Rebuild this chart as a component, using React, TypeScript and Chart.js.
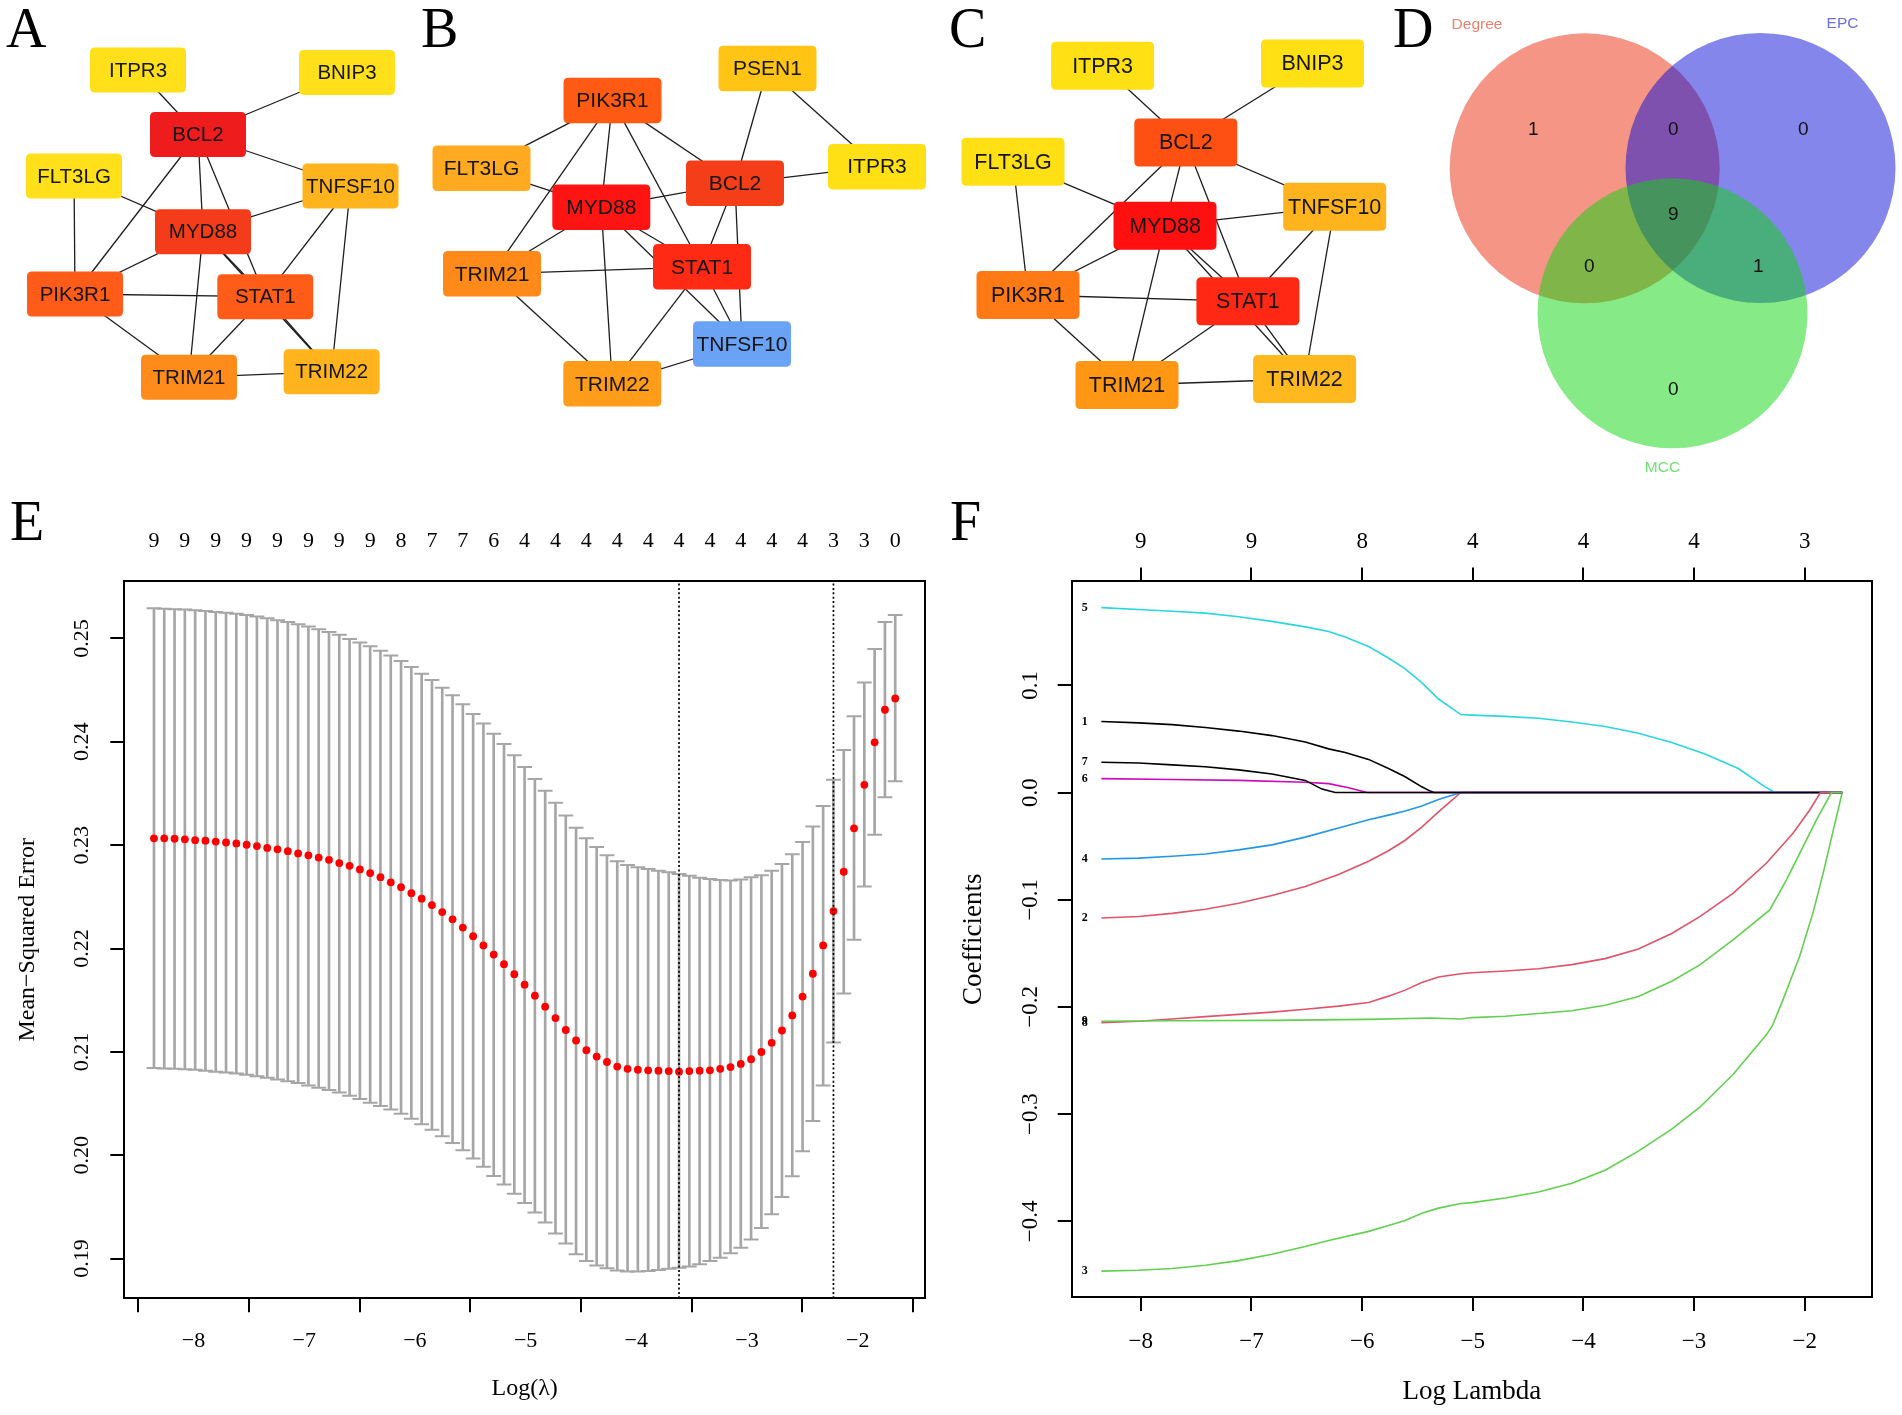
import React, { useEffect, useRef } from 'react';
import { Chart, registerables } from 'chart.js';

Chart.register(...registerables);

const SERIF = '"Liberation Serif", "Times New Roman", serif';
const SANS = '"Liberation Sans", Arial, sans-serif';

// ---------------- Panel A network ----------------
const A_NODES = ['ITPR3', 'BNIP3', 'BCL2', 'FLT3LG', 'TNFSF10', 'MYD88', 'PIK3R1', 'STAT1', 'TRIM21', 'TRIM22'];
const A_X = [138, 347, 198, 74, 350.5, 203, 75, 265.3, 189, 331.6];
const A_Y = [70, 72.5, 134.5, 176, 186, 231.7, 294, 296.7, 377.3, 371.7];
const A_COLORS = ['#FFE01A', '#FFE01A', '#EE1C1C', '#FFE01A', '#FFB41E', '#F43C1A', '#FF5C1A', '#FF5C1A', '#FF8C1A', '#FFB41E'];
const A_EDGES: [string, string][] = [
  ['ITPR3', 'BCL2'], ['BNIP3', 'BCL2'], ['BCL2', 'TNFSF10'], ['BCL2', 'MYD88'], ['BCL2', 'PIK3R1'], ['BCL2', 'STAT1'],
  ['FLT3LG', 'MYD88'], ['FLT3LG', 'PIK3R1'], ['TNFSF10', 'MYD88'], ['TNFSF10', 'STAT1'], ['TNFSF10', 'TRIM22'],
  ['MYD88', 'PIK3R1'], ['MYD88', 'TRIM21'], ['MYD88', 'STAT1'], ['MYD88', 'TRIM22'], ['PIK3R1', 'STAT1'],
  ['PIK3R1', 'TRIM21'], ['STAT1', 'TRIM21'], ['STAT1', 'TRIM22'], ['TRIM21', 'TRIM22'],
];

// ---------------- Panel B network ----------------
const B_NODES = ['PSEN1', 'PIK3R1', 'FLT3LG', 'ITPR3', 'BCL2', 'MYD88', 'TRIM21', 'STAT1', 'TNFSF10', 'TRIM22'];
const B_X = [767.5, 612.5, 481.5, 877, 735, 601.3, 492, 702, 742, 612.3];
const B_Y = [68.5, 100.6, 168.3, 166.7, 183.3, 207.3, 273.8, 266.8, 344, 383.8];
const B_COLORS = ['#FFC414', '#FF5A14', '#FFAA20', '#FFE014', '#F43E1A', '#FF1414', '#FF8A1A', '#FF2A14', '#6AA2F5', '#FF9C1A'];
const B_EDGES: [string, string][] = [
  ['PSEN1', 'BCL2'], ['PSEN1', 'ITPR3'], ['BCL2', 'ITPR3'], ['PIK3R1', 'FLT3LG'], ['PIK3R1', 'MYD88'], ['PIK3R1', 'BCL2'],
  ['PIK3R1', 'STAT1'], ['PIK3R1', 'TRIM21'], ['FLT3LG', 'MYD88'], ['MYD88', 'BCL2'], ['MYD88', 'TRIM21'], ['MYD88', 'STAT1'],
  ['MYD88', 'TNFSF10'], ['MYD88', 'TRIM22'], ['BCL2', 'STAT1'], ['BCL2', 'TNFSF10'], ['STAT1', 'TRIM21'], ['STAT1', 'TRIM22'],
  ['STAT1', 'TNFSF10'], ['TRIM21', 'TRIM22'], ['TNFSF10', 'TRIM22'],
];

// ---------------- Panel C network ----------------
const C_NODES = ['ITPR3', 'BNIP3', 'BCL2', 'FLT3LG', 'TNFSF10', 'MYD88', 'PIK3R1', 'STAT1', 'TRIM21', 'TRIM22'];
const C_X = [1102.6, 1312.5, 1185.8, 1013, 1334.7, 1165, 1028, 1247.9, 1127, 1304.6];
const C_Y = [65.8, 63.5, 142.5, 161.7, 206.7, 225.7, 295, 301.3, 385, 379];
const C_COLORS = ['#FFE014', '#FFE014', '#FF5014', '#FFE014', '#FFB41E', '#FF1010', '#FF7A14', '#FF2814', '#FF9614', '#FFB81E'];
const C_EDGES: [string, string][] = [
  ['ITPR3', 'BCL2'], ['BNIP3', 'BCL2'], ['BCL2', 'TNFSF10'], ['BCL2', 'MYD88'], ['BCL2', 'PIK3R1'], ['BCL2', 'STAT1'],
  ['FLT3LG', 'MYD88'], ['FLT3LG', 'PIK3R1'], ['TNFSF10', 'MYD88'], ['TNFSF10', 'STAT1'], ['TNFSF10', 'TRIM22'],
  ['MYD88', 'PIK3R1'], ['MYD88', 'TRIM21'], ['MYD88', 'STAT1'], ['MYD88', 'TRIM22'], ['PIK3R1', 'STAT1'],
  ['PIK3R1', 'TRIM21'], ['STAT1', 'TRIM21'], ['STAT1', 'TRIM22'], ['TRIM21', 'TRIM22'],
];

// ---------------- Panel D Venn ----------------
const VENN_SETS = ['Degree', 'EPC', 'MCC'];
const VENN_CX = [1584.7, 1760.5, 1672.5];
const VENN_CY = [168.3, 168, 313.3];
const VENN_R = [135, 135, 135];
const VENN_FILLS = ['rgba(233,43,12,0.5)', 'rgba(12,14,218,0.5)', 'rgba(14,214,14,0.5)'];
const VENN_LABEL_COLORS = ['#EE7F6C', '#6E6EE2', '#72E072'];
const VENN_LABEL_X = [1477, 1842.5, 1662.5];
const VENN_LABEL_Y = [25, 24, 468];
const VENN_COUNTS = ['1', '0', '0', '9', '0', '1', '0'];
const VENN_COUNT_X = [1533.3, 1673.3, 1803.3, 1673.3, 1589.3, 1758.3, 1673.3];
const VENN_COUNT_Y = [130, 130, 130, 215, 266.7, 266.7, 390];

// ---------------- Panel E: cross-validation ----------------
const LOG_LAMBDA = [
  -8.357, -8.264, -8.171, -8.078, -7.985, -7.892, -7.799, -7.706, -7.613, -7.520,
  -7.427, -7.334, -7.241, -7.148, -7.055, -6.962, -6.869, -6.776, -6.683, -6.590,
  -6.497, -6.404, -6.311, -6.218, -6.125, -6.032, -5.939, -5.846, -5.753, -5.660,
  -5.567, -5.474, -5.381, -5.288, -5.195, -5.102, -5.009, -4.916, -4.823, -4.730,
  -4.637, -4.544, -4.451, -4.358, -4.265, -4.172, -4.079, -3.986, -3.893, -3.800,
  -3.707, -3.614, -3.521, -3.428, -3.335, -3.242, -3.149, -3.056, -2.963, -2.870,
  -2.777, -2.684, -2.591, -2.498, -2.405, -2.312, -2.219, -2.126, -2.033, -1.940,
  -1.847, -1.754, -1.661,
];
const CV_MEAN = [
  0.23066, 0.23066, 0.23062, 0.23057, 0.23048, 0.23044, 0.23035, 0.23026, 0.23017, 0.23004,
  0.22991, 0.22973, 0.22960, 0.22942, 0.22920, 0.22902, 0.22880, 0.22858, 0.22827, 0.22800,
  0.22765, 0.22730, 0.22690, 0.22641, 0.22593, 0.22535, 0.22482, 0.22420, 0.22353, 0.22283,
  0.22203, 0.22119, 0.22030, 0.21942, 0.21849, 0.21752, 0.21650, 0.21544, 0.21437, 0.21327,
  0.21212, 0.21110, 0.21017, 0.20955, 0.20902, 0.20858, 0.20836, 0.20827, 0.20822, 0.20818,
  0.20814, 0.20809, 0.20814, 0.20818, 0.20822, 0.20836, 0.20853, 0.20884, 0.20929, 0.20999,
  0.21088, 0.21207, 0.21353, 0.21535, 0.21756, 0.22030, 0.22362, 0.22743, 0.23163, 0.23584,
  0.23995, 0.24310, 0.24420,
];
const CV_UP = [
  0.25292, 0.25288, 0.25283, 0.25279, 0.25274, 0.25265, 0.25256, 0.25248, 0.25239, 0.25226,
  0.25212, 0.25195, 0.25177, 0.25159, 0.25137, 0.25115, 0.25088, 0.25062, 0.25035, 0.24995,
  0.24960, 0.24925, 0.24880, 0.24836, 0.24783, 0.24725, 0.24659, 0.24597, 0.24522, 0.24451,
  0.24363, 0.24270, 0.24177, 0.24079, 0.23978, 0.23871, 0.23756, 0.23641, 0.23526, 0.23411,
  0.23287, 0.23168, 0.23066, 0.22982, 0.22902, 0.22845, 0.22809, 0.22787, 0.22770, 0.22752,
  0.22739, 0.22721, 0.22703, 0.22685, 0.22672, 0.22663, 0.22659, 0.22668, 0.22690, 0.22708,
  0.22752, 0.22818, 0.22911, 0.23031, 0.23181, 0.23380, 0.23632, 0.23920, 0.24248, 0.24575,
  0.24898, 0.25159, 0.25226,
];
const CV_LO = [
  0.20845, 0.20840, 0.20836, 0.20831, 0.20827, 0.20818, 0.20809, 0.20800, 0.20791, 0.20778,
  0.20765, 0.20751, 0.20734, 0.20716, 0.20698, 0.20676, 0.20654, 0.20632, 0.20606, 0.20575,
  0.20544, 0.20509, 0.20477, 0.20442, 0.20402, 0.20353, 0.20300, 0.20247, 0.20185, 0.20119,
  0.20048, 0.19968, 0.19889, 0.19800, 0.19716, 0.19628, 0.19539, 0.19446, 0.19349, 0.19243,
  0.19145, 0.19043, 0.18977, 0.18933, 0.18906, 0.18884, 0.18875, 0.18875, 0.18880, 0.18889,
  0.18902, 0.18911, 0.18924, 0.18946, 0.18977, 0.19008, 0.19052, 0.19105, 0.19185, 0.19296,
  0.19428, 0.19597, 0.19796, 0.20039, 0.20331, 0.20676, 0.21092, 0.21566, 0.22084, 0.22601,
  0.23101, 0.23464, 0.23619,
];
const E_DF_LABELS = ['9', '9', '9', '9', '9', '9', '9', '9', '8', '7', '7', '6', '4', '4', '4', '4', '4', '4', '4', '4', '4', '4', '3', '3', '0'];
const LOG_LAMBDA_MIN = -3.614;
const LOG_LAMBDA_1SE = -2.219;
const X_TICKS = [-8, -7, -6, -5, -4, -3, -2];
const X_RANGE = [-8.625, -1.392];
const E_Y_TICKS = [0.19, 0.2, 0.21, 0.22, 0.23, 0.24, 0.25];
const E_Y_RANGE = [0.18616, 0.25552];

// ---------------- Panel F: coefficient paths ----------------
const C1_X = [-8.357, -8.019, -7.718, -7.417, -7.116, -6.815, -6.514, -6.303, -6.153, -5.942, -5.762, -5.611, -5.461, -5.385, -5.35, -1.661];
const C1_Y = [0.0663, 0.065, 0.0633, 0.0607, 0.0573, 0.0531, 0.0471, 0.0407, 0.0373, 0.0309, 0.0224, 0.0147, 0.0053, 0.0013, 0, 0];
const C2_X = [-8.357, -8.019, -7.718, -7.417, -7.116, -6.815, -6.514, -6.213, -5.942, -5.762, -5.611, -5.461, -5.31, -5.108, -1.661];
const C2_Y = [-0.117, -0.1157, -0.1127, -0.1089, -0.1033, -0.0961, -0.0876, -0.0765, -0.0641, -0.0543, -0.0445, -0.0322, -0.0181, 0, 0];
const C3_X = [-8.357, -8.019, -7.718, -7.417, -7.116, -6.815, -6.514, -6.303, -5.942, -5.762, -5.611, -5.461, -5.31, -5.108, -5.008, -4.707, -4.406, -4.105, -3.804, -3.503, -3.202, -2.948, -2.648, -2.347, -2.292, -2.196, -2.045, -1.925, -1.835, -1.744, -1.661];
const C3_Y = [-0.4464, -0.4456, -0.4439, -0.4409, -0.4366, -0.4306, -0.4234, -0.4178, -0.4093, -0.4038, -0.3991, -0.3923, -0.3876, -0.3833, -0.3825, -0.3782, -0.3725, -0.3645, -0.3522, -0.3345, -0.314, -0.2935, -0.263, -0.226, -0.2175, -0.1932, -0.1525, -0.112, -0.076, -0.036, 0];
const C4_X = [-8.357, -8.019, -7.718, -7.417, -7.116, -6.815, -6.514, -6.213, -5.942, -5.762, -5.611, -5.461, -5.31, -5.108, -1.661];
const C4_Y = [-0.062, -0.0612, -0.0595, -0.0573, -0.0535, -0.0488, -0.0416, -0.033, -0.0254, -0.0211, -0.0173, -0.0126, -0.0066, 0, 0];
const C5_X = [-8.357, -8.019, -7.718, -7.417, -7.116, -6.815, -6.514, -6.303, -6.153, -5.942, -5.762, -5.611, -5.461, -5.31, -5.108, -5.008, -4.707, -4.406, -4.105, -3.804, -3.503, -3.202, -2.901, -2.6, -2.359, -2.268, -1.661];
const C5_Y = [0.1724, 0.1707, 0.169, 0.1673, 0.1639, 0.1596, 0.1545, 0.1502, 0.1451, 0.1362, 0.1255, 0.1153, 0.1025, 0.0872, 0.0727, 0.0722, 0.071, 0.0693, 0.0658, 0.0616, 0.0552, 0.0467, 0.036, 0.0224, 0.0053, 0, 0];
const C6_X = [-8.357, -7.718, -7.116, -6.514, -6.303, -6.122, -5.956, -1.661];
const C6_Y = [0.013, 0.0121, 0.0113, 0.0096, 0.0083, 0.0045, 0, 0];
const C7_X = [-8.357, -8.019, -7.718, -7.417, -7.116, -6.815, -6.514, -6.363, -6.243, -1.661];
const C7_Y = [0.0283, 0.0275, 0.0258, 0.0241, 0.0211, 0.0173, 0.0113, 0.0032, 0, 0];
const C8_X = [-8.357, -8.019, -7.718, -7.417, -7.116, -6.815, -6.514, -6.213, -5.942, -5.762, -5.611, -5.461, -5.31, -5.108, -5.008, -4.707, -4.406, -4.105, -3.804, -3.503, -3.202, -2.948, -2.648, -2.347, -2.106, -1.955, -1.858, -1.661];
const C8_Y = [-0.2146, -0.2133, -0.2112, -0.209, -0.2069, -0.2048, -0.2022, -0.1992, -0.1958, -0.1899, -0.1843, -0.1771, -0.172, -0.169, -0.1681, -0.1664, -0.1643, -0.1605, -0.1549, -0.146, -0.1315, -0.1157, -0.094, -0.066, -0.038, -0.0163, 0, 0];
const C9_X = [-8.357, -7.718, -6.815, -5.942, -5.385, -5.108, -5.008, -4.707, -4.406, -4.105, -3.804, -3.503, -3.202, -2.948, -2.648, -2.316, -2.165, -2.015, -1.894, -1.759, -1.661];
const C9_Y = [-0.2133, -0.2129, -0.2125, -0.2116, -0.2103, -0.2112, -0.2099, -0.2086, -0.2061, -0.2035, -0.1984, -0.1903, -0.176, -0.1608, -0.1375, -0.1095, -0.0815, -0.0505, -0.0256, 0, 0];
const CURVE_LABELS = ['1', '2', '3', '4', '5', '6', '7', '8', '9'];
const CURVE_COLORS = ['#000000', '#DF536B', '#61D04F', '#2297E6', '#2AD6E0', '#CD0BBC', '#000000', '#DF536B', '#61D04F'];
const F_DF_LABELS = ['9', '9', '8', '4', '4', '4', '3'];
const F_Y_TICKS = [-0.4, -0.3, -0.2, -0.1, 0, 0.1];
const F_Y_RANGE = [-0.4705, 0.1969];

// ---------------- helpers ----------------
const minus = (s: string) => s.replace('-', '\u2212');
const measure = (font: string, s: string) => {
  const c = document.createElement('canvas').getContext('2d');
  if (!c) return s.length * 11;
  c.font = font;
  return c.measureText(s).width;
};
const roundRect = (ctx: CanvasRenderingContext2D, x: number, y: number, w: number, h: number, r: number) => {
  ctx.beginPath();
  ctx.moveTo(x + r, y);
  ctx.lineTo(x + w - r, y);
  ctx.quadraticCurveTo(x + w, y, x + w, y + r);
  ctx.lineTo(x + w, y + h - r);
  ctx.quadraticCurveTo(x + w, y + h, x + w - r, y + h);
  ctx.lineTo(x + r, y + h);
  ctx.quadraticCurveTo(x, y + h, x, y + h - r);
  ctx.lineTo(x, y + r);
  ctx.quadraticCurveTo(x, y, x + r, y);
  ctx.closePath();
};

const nodePlugin = {
  id: 'networkNodes',
  afterDatasetsDraw(chart: any) {
    const ctx = chart.ctx as CanvasRenderingContext2D;
    const xs = chart.scales.x;
    const ys = chart.scales.y;
    chart.data.datasets.forEach((ds: any, di: number) => {
      if (!ds.nodeNames) return;
      const meta = chart.getDatasetMeta(di);
      ds.nodeNames.forEach((name: string, i: number) => {
        const el = meta.data[i];
        const raw = ds.data[i];
        const w = Math.abs(xs.getPixelForValue(raw.x + ds.nodeW / 2) - xs.getPixelForValue(raw.x - ds.nodeW / 2));
        const h = Math.abs(ys.getPixelForValue(raw.y + ds.nodeH / 2) - ys.getPixelForValue(raw.y - ds.nodeH / 2));
        ctx.save();
        roundRect(ctx, el.x - w / 2, el.y - h / 2, w, h, 5);
        ctx.fillStyle = ds.nodeColors[i];
        ctx.fill();
        ctx.fillStyle = '#161616';
        ctx.font = `${ds.nodeFont}px ${SANS}`;
        ctx.textAlign = 'center';
        ctx.textBaseline = 'middle';
        ctx.fillText(name, el.x, el.y + 1);
        ctx.restore();
      });
    });
  },
};

function makeNetwork(canvas: HTMLCanvasElement, left: number, width: number, names: string[], xs: number[], ys: number[], colors: string[], edges: [string, string][], nodeW: number, nodeH: number, font: number) {
  const at = (n: string) => names.indexOf(n);
  const edgeSets = edges.map(([a, b]) => ({
    type: 'line',
    data: [{ x: xs[at(a)], y: ys[at(a)] }, { x: xs[at(b)], y: ys[at(b)] }],
    borderColor: '#1e1e1e',
    borderWidth: 1.3,
    pointRadius: 0,
    fill: false,
    order: 2,
  }));
  const nodeSet: any = {
    type: 'scatter',
    data: names.map((_, i) => ({ x: xs[i], y: ys[i] })),
    pointRadius: 0,
    order: 1,
    nodeNames: names,
    nodeColors: colors,
    nodeW,
    nodeH,
    nodeFont: font,
  };
  return new Chart(canvas, {
    type: 'scatter',
    data: { datasets: [...edgeSets, nodeSet] as any },
    options: {
      animation: false,
      responsive: false,
      events: [],
      layout: { padding: 0 },
      plugins: { legend: { display: false }, tooltip: { enabled: false } },
      scales: {
        x: { type: 'linear', display: false, min: left, max: left + width },
        y: { type: 'linear', display: false, min: 0, max: 480, reverse: true },
      },
    },
    plugins: [nodePlugin],
  } as any);
}

const vennPlugin = {
  id: 'vennCircles',
  beforeDatasetsDraw(chart: any) {
    const ctx = chart.ctx as CanvasRenderingContext2D;
    const xs = chart.scales.x;
    chart.data.datasets.forEach((ds: any, di: number) => {
      const el = chart.getDatasetMeta(di).data[0];
      const raw = ds.data[0];
      const r = Math.abs(xs.getPixelForValue(raw.x + ds.circleR) - xs.getPixelForValue(raw.x));
      ctx.save();
      ctx.beginPath();
      ctx.arc(el.x, el.y, r, 0, Math.PI * 2);
      ctx.fillStyle = ds.circleFill;
      ctx.fill();
      ctx.restore();
    });
  },
  afterDatasetsDraw(chart: any) {
    const ctx = chart.ctx as CanvasRenderingContext2D;
    const xs = chart.scales.x;
    const ys = chart.scales.y;
    ctx.save();
    ctx.textAlign = 'center';
    ctx.textBaseline = 'middle';
    ctx.font = `19px ${SANS}`;
    ctx.fillStyle = '#111';
    VENN_COUNTS.forEach((c, i) => ctx.fillText(c, xs.getPixelForValue(VENN_COUNT_X[i]), ys.getPixelForValue(VENN_COUNT_Y[i])));
    ctx.font = `15.5px ${SANS}`;
    VENN_SETS.forEach((s, i) => {
      ctx.fillStyle = VENN_LABEL_COLORS[i];
      ctx.fillText(s, xs.getPixelForValue(VENN_LABEL_X[i]), ys.getPixelForValue(VENN_LABEL_Y[i]));
    });
    ctx.restore();
  },
};

function makeVenn(canvas: HTMLCanvasElement) {
  return new Chart(canvas, {
    type: 'scatter',
    data: {
      datasets: VENN_SETS.map((s, i) => ({
        label: s,
        data: [{ x: VENN_CX[i], y: VENN_CY[i] }],
        pointRadius: 0,
        circleR: VENN_R[i],
        circleFill: VENN_FILLS[i],
      })) as any,
    },
    options: {
      animation: false,
      responsive: false,
      events: [],
      layout: { padding: 0 },
      plugins: { legend: { display: false }, tooltip: { enabled: false } },
      scales: {
        x: { type: 'linear', display: false, min: 1390, max: 1902 },
        y: { type: 'linear', display: false, min: 0, max: 480, reverse: true },
      },
    },
    plugins: [vennPlugin],
  } as any);
}

const boxAxis = (position: string, range: number[]) => ({
  type: 'linear',
  position,
  min: range[0],
  max: range[1],
  bounds: 'data',
  ticks: { display: false },
  grid: { display: false, drawTicks: false },
  border: { display: true, color: '#000', width: 2 },
  afterFit: (s: any) => { if (position === 'right') s.width = 0; else s.height = 0; },
});

function makeE(canvas: HTMLCanvasElement) {
  const W = 951;
  const area = { left: 124.3, right: 925, top: 101.4, bottom: 818.3, height: 935 };
  const fs = 22;
  const tl = 14;
  const widest = Math.max(...E_Y_TICKS.map((v) => measure(`${fs}px ${SERIF}`, v.toFixed(2))));
  const yPad = area.left - tl - 82 - widest / 2;
  const xPad = 861.3 - area.bottom - tl - (fs * 1.2) / 2;
  const topPad = area.top - 61.6 - (fs * 1.2) / 2;
  const dfTicks = LOG_LAMBDA.filter((_, i) => i % 3 === 0);
  const capHalf = 0.01 * (LOG_LAMBDA[LOG_LAMBDA.length - 1] - LOG_LAMBDA[0]);
  const capRadius = (ctx: any) => {
    const s = ctx.chart.scales.x;
    return s ? Math.abs(s.getPixelForValue(capHalf) - s.getPixelForValue(0)) : 7.4;
  };
  const grey = '#A6A6A6';
  return new Chart(canvas, {
    type: 'bar',
    data: {
      datasets: [
        { type: 'line', data: [{ x: LOG_LAMBDA_MIN, y: E_Y_RANGE[0] }, { x: LOG_LAMBDA_MIN, y: E_Y_RANGE[1] }], borderColor: '#000', borderWidth: 1.7, borderDash: [2, 2.4], pointRadius: 0, order: 0 },
        { type: 'line', data: [{ x: LOG_LAMBDA_1SE, y: E_Y_RANGE[0] }, { x: LOG_LAMBDA_1SE, y: E_Y_RANGE[1] }], borderColor: '#000', borderWidth: 1.7, borderDash: [2, 2.4], pointRadius: 0, order: 0 },
        { type: 'scatter', data: LOG_LAMBDA.map((x, i) => ({ x, y: CV_MEAN[i] })), pointRadius: 3.9, backgroundColor: '#FF0000', borderWidth: 0, order: 1 },
        { type: 'scatter', data: LOG_LAMBDA.map((x, i) => ({ x, y: CV_UP[i] })), pointStyle: 'line', pointRadius: capRadius, borderColor: grey, borderWidth: 2, order: 2 },
        { type: 'scatter', data: LOG_LAMBDA.map((x, i) => ({ x, y: CV_LO[i] })), pointStyle: 'line', pointRadius: capRadius, borderColor: grey, borderWidth: 2, order: 2 },
        { type: 'bar', data: LOG_LAMBDA.map((x, i) => ({ x, y: [CV_LO[i], CV_UP[i]] })), backgroundColor: grey, barThickness: 2, order: 3 },
      ] as any,
    },
    options: {
      animation: false,
      responsive: false,
      events: [],
      layout: { padding: { left: 0, right: W - area.right, top: 0, bottom: 0 } },
      plugins: { legend: { display: false }, tooltip: { enabled: false } },
      scales: {
        x: {
          type: 'linear', position: 'bottom', min: X_RANGE[0], max: X_RANGE[1], bounds: 'data', offset: false,
          afterBuildTicks: (s: any) => { s.ticks = X_TICKS.map((v) => ({ value: v })); },
          afterFit: (s: any) => { s.height = area.height - area.bottom; },
          ticks: { font: { family: SERIF, size: fs }, color: '#000', padding: xPad, maxRotation: 0, autoSkip: false, callback: (v: any) => minus(String(v)) },
          grid: { display: true, drawOnChartArea: false, drawTicks: true, tickLength: tl, color: '#000', lineWidth: 2 },
          border: { display: true, color: '#000', width: 2 },
          title: { display: true, text: 'Log(\u03bb)', font: { family: SERIF, size: 24 }, color: '#000', padding: { top: 0, bottom: 11.6 } },
        },
        xTop: {
          type: 'linear', position: 'top', min: X_RANGE[0], max: X_RANGE[1], bounds: 'data', offset: false,
          afterBuildTicks: (s: any) => { s.ticks = dfTicks.map((v) => ({ value: v })); },
          afterFit: (s: any) => { s.height = area.top; },
          ticks: { font: { family: SERIF, size: fs }, color: '#000', padding: topPad, maxRotation: 0, autoSkip: false, callback: (_v: any, i: number) => E_DF_LABELS[i] },
          grid: { display: false, drawTicks: false },
          border: { display: true, color: '#000', width: 2 },
        },
        y: {
          type: 'linear', position: 'left', min: E_Y_RANGE[0], max: E_Y_RANGE[1], bounds: 'data',
          afterBuildTicks: (s: any) => { s.ticks = E_Y_TICKS.map((v) => ({ value: v })); },
          afterFit: (s: any) => { s.width = area.left; },
          ticks: { font: { family: SERIF, size: fs }, color: '#000', padding: yPad, minRotation: 90, maxRotation: 90, crossAlign: 'center', autoSkip: false, callback: (v: any) => Number(v).toFixed(2) },
          grid: { display: true, drawOnChartArea: false, drawTicks: true, tickLength: tl, color: '#000', lineWidth: 2 },
          border: { display: true, color: '#000', width: 2 },
          title: { display: true, text: 'Mean\u2212Squared Error', font: { family: SERIF, size: 24 }, color: '#000', padding: { top: 12.9, bottom: 0 } },
        },
        yRight: boxAxis('right', E_Y_RANGE),
      },
    },
  } as any);
}

const curveLabelPlugin = {
  id: 'curveLabels',
  afterDatasetsDraw(chart: any) {
    const ctx = chart.ctx as CanvasRenderingContext2D;
    ctx.save();
    ctx.font = `bold 12px ${SERIF}`;
    ctx.fillStyle = '#000';
    ctx.textAlign = 'center';
    ctx.textBaseline = 'middle';
    chart.data.datasets.forEach((ds: any, i: number) => {
      const p = chart.getDatasetMeta(i).data[0];
      if (p) ctx.fillText(ds.label, p.x - 16.6, p.y);
    });
    ctx.restore();
  },
};

function makeF(canvas: HTMLCanvasElement) {
  const W = 951;
  const area = { left: 120.7, right: 921, top: 101.4, bottom: 817, height: 935 };
  const fs = 23;
  const tl = 14;
  const widest = Math.max(...F_Y_TICKS.map((v) => measure(`${fs}px ${SERIF}`, minus(v.toFixed(1)))));
  const yPad = area.left - tl - 80 - widest / 2;
  const xPad = 861.7 - area.bottom - tl - (fs * 1.2) / 2;
  const topPad = area.top - tl - 61.6 - (fs * 1.2) / 2;
  const xsAll = [C1_X, C2_X, C3_X, C4_X, C5_X, C6_X, C7_X, C8_X, C9_X];
  const ysAll = [C1_Y, C2_Y, C3_Y, C4_Y, C5_Y, C6_Y, C7_Y, C8_Y, C9_Y];
  return new Chart(canvas, {
    type: 'line',
    data: {
      datasets: CURVE_LABELS.map((lab, k) => ({
        label: lab,
        data: xsAll[k].map((x, i) => ({ x, y: ysAll[k][i] })),
        borderColor: CURVE_COLORS[k],
        borderWidth: 1.6,
        pointRadius: 0,
        fill: false,
        tension: 0,
        order: 9 - k,
      })),
    },
    options: {
      animation: false,
      responsive: false,
      events: [],
      layout: { padding: { left: 0, right: W - area.right, top: 0, bottom: 0 } },
      plugins: { legend: { display: false }, tooltip: { enabled: false } },
      scales: {
        x: {
          type: 'linear', position: 'bottom', min: X_RANGE[0], max: X_RANGE[1], bounds: 'data', offset: false,
          afterBuildTicks: (s: any) => { s.ticks = X_TICKS.map((v) => ({ value: v })); },
          afterFit: (s: any) => { s.height = area.height - area.bottom; },
          ticks: { font: { family: SERIF, size: fs }, color: '#000', padding: xPad, maxRotation: 0, autoSkip: false, callback: (v: any) => minus(String(v)) },
          grid: { display: true, drawOnChartArea: false, drawTicks: true, tickLength: tl, color: '#000', lineWidth: 2 },
          border: { display: true, color: '#000', width: 2 },
          title: { display: true, text: 'Log Lambda', font: { family: SERIF, size: 27 }, color: '#000', padding: { top: 0, bottom: 6.8 } },
        },
        xTop: {
          type: 'linear', position: 'top', min: X_RANGE[0], max: X_RANGE[1], bounds: 'data', offset: false,
          afterBuildTicks: (s: any) => { s.ticks = X_TICKS.map((v) => ({ value: v })); },
          afterFit: (s: any) => { s.height = area.top; },
          ticks: { font: { family: SERIF, size: fs }, color: '#000', padding: topPad, maxRotation: 0, autoSkip: false, callback: (_v: any, i: number) => F_DF_LABELS[i] },
          grid: { display: true, drawOnChartArea: false, drawTicks: true, tickLength: tl, color: '#000', lineWidth: 2 },
          border: { display: true, color: '#000', width: 2 },
        },
        y: {
          type: 'linear', position: 'left', min: F_Y_RANGE[0], max: F_Y_RANGE[1], bounds: 'data',
          afterBuildTicks: (s: any) => { s.ticks = F_Y_TICKS.map((v) => ({ value: v })); },
          afterFit: (s: any) => { s.width = area.left; },
          ticks: { font: { family: SERIF, size: fs }, color: '#000', padding: yPad, minRotation: 90, maxRotation: 90, crossAlign: 'center', autoSkip: false, callback: (v: any) => minus(Number(v).toFixed(1)) },
          grid: { display: true, drawOnChartArea: false, drawTicks: true, tickLength: tl, color: '#000', lineWidth: 2 },
          border: { display: true, color: '#000', width: 2 },
          title: { display: true, text: 'Coefficients', font: { family: SERIF, size: 27 }, color: '#000', padding: { top: 6.8, bottom: 0 } },
        },
        yRight: boxAxis('right', F_Y_RANGE),
      },
    },
    plugins: [curveLabelPlugin],
  } as any);
}

function ChartCanvas(props: { left: number; top: number; width: number; height: number; make: (c: HTMLCanvasElement) => Chart }) {
  const ref = useRef<HTMLCanvasElement>(null);
  useEffect(() => {
    if (!ref.current) return;
    const chart = props.make(ref.current);
    return () => chart.destroy();
  }, []);
  return (
    <canvas
      ref={ref}
      width={props.width}
      height={props.height}
      style={{ position: 'absolute', left: props.left, top: props.top, width: props.width, height: props.height }}
    />
  );
}

const letterStyle = (left: number, top: number): React.CSSProperties => ({
  position: 'absolute', left, top, fontFamily: SERIF, fontSize: 56, lineHeight: '56px', color: '#000', margin: 0,
});

export default function App() {
  return (
    <div style={{ position: 'absolute', left: 0, top: 0, width: 1902, height: 1415, background: '#fff', overflow: 'hidden' }}>
      <ChartCanvas left={0} top={0} width={420} height={480} make={(c) => makeNetwork(c, 0, 420, A_NODES, A_X, A_Y, A_COLORS, A_EDGES, 96, 45, 20.5)} />
      <ChartCanvas left={420} top={0} width={531} height={480} make={(c) => makeNetwork(c, 420, 531, B_NODES, B_X, B_Y, B_COLORS, B_EDGES, 98, 45.5, 21)} />
      <ChartCanvas left={951} top={0} width={439} height={480} make={(c) => makeNetwork(c, 951, 439, C_NODES, C_X, C_Y, C_COLORS, C_EDGES, 103, 48, 21.5)} />
      <ChartCanvas left={1390} top={0} width={512} height={480} make={makeVenn} />
      <ChartCanvas left={0} top={480} width={951} height={935} make={makeE} />
      <ChartCanvas left={951} top={480} width={951} height={935} make={makeF} />
      <div style={letterStyle(6, 0)}>A</div>
      <div style={letterStyle(421, 0)}>B</div>
      <div style={letterStyle(949, 0)}>C</div>
      <div style={letterStyle(1393, 0)}>D</div>
      <div style={letterStyle(10, 493)}>E</div>
      <div style={letterStyle(950, 493)}>F</div>
    </div>
  );
}
